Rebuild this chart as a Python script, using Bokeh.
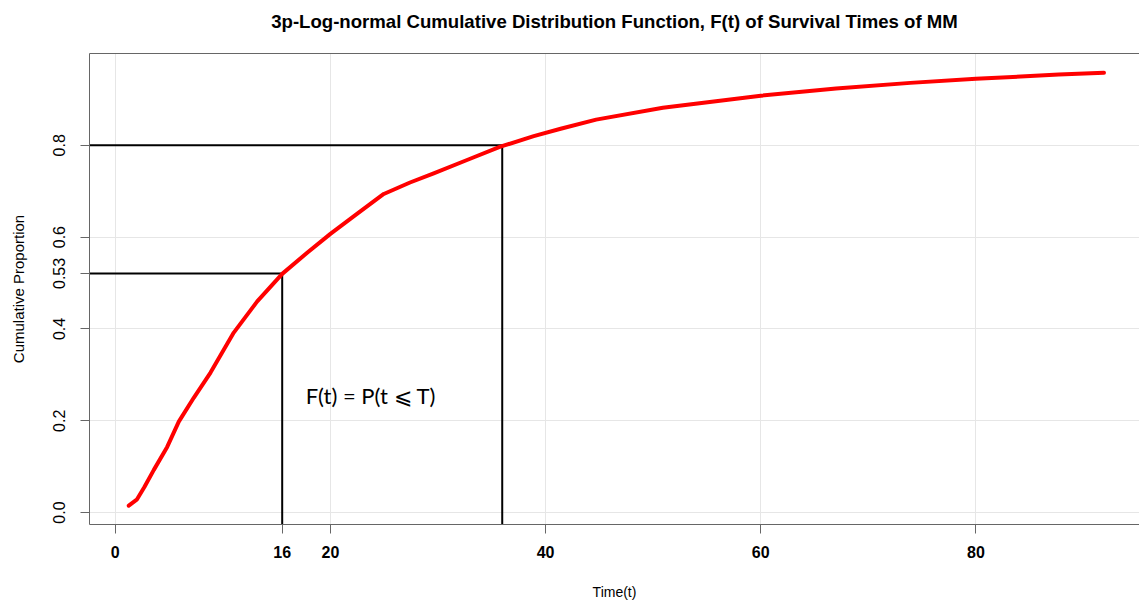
import numpy as np
from bokeh.plotting import figure
from bokeh.models import FixedTicker, LinearAxis, Range1d, ColumnDataSource
from bokeh.core.properties import value
from bokeh.embed import file_html
from bokeh.resources import INLINE

# ---- data ----
time_t = [1.26, 2.0, 2.7, 3.59, 4.83, 5.91, 7.3, 8.86, 11.02, 13.2, 15.52,
          17.84, 20.0, 22.5, 24.96, 27.4, 29.6, 32.7, 35.8, 38.9, 41.4, 44.7,
          50.9, 60.0, 67.0, 73.9, 80.0, 87.7, 91.9]
cum_prop = [0.015, 0.028, 0.055, 0.093, 0.143, 0.198, 0.250, 0.305, 0.392,
            0.460, 0.520, 0.566, 0.607, 0.651, 0.694, 0.719, 0.739, 0.768,
            0.797, 0.820, 0.836, 0.856, 0.882, 0.908, 0.924, 0.936, 0.945,
            0.954, 0.958]

ref_time = [15.52, 35.97]
ref_prop = [0.521, 0.8]

x_ticks = [0, 15.52, 20, 40, 60, 80]
x_tick_labels = ["0", "16", "20", "40", "60", "80"]
y_ticks = [0.0, 0.2, 0.4, 0.521, 0.6, 0.8]
y_tick_labels = ["0.0", "0.2", "0.4", "0.53", "0.6", "0.8"]
x_grid = [0, 20, 40, 60, 80]
y_grid = [0.0, 0.2, 0.4, 0.6, 0.8]

title_text = "3p-Log-normal Cumulative Distribution Function, F(t) of Survival Times of MM"
formula_text = "F(t) = P(t \u2a7d T)"

X0, X1 = -2.39, 95.2
Y0, Y1 = -0.026, 1.0

p = figure(width=1139, height=602, output_backend="svg", toolbar_location=None,
           title=None,
           x_range=Range1d(X0, X1), y_range=Range1d(Y0, Y1),
           min_border_left=89, min_border_right=0, min_border_top=53,
           min_border_bottom=77)
p.outline_line_color = None
p.background_fill_color = "white"
p.border_fill_color = "white"

# grid
p.xgrid.ticker = FixedTicker(ticks=x_grid)
p.ygrid.ticker = FixedTicker(ticks=y_grid)
p.grid.grid_line_color = "#e6e6e6"
p.grid.grid_line_width = 1

frame_col = "#666666"

# x axis
xa = p.xaxis[0]
xa.ticker = FixedTicker(ticks=x_ticks)
xa.major_label_overrides = {t: l for t, l in zip(x_ticks, x_tick_labels)}
xa.axis_line_color = frame_col
xa.major_tick_line_color = frame_col
xa.major_tick_out = 9
xa.major_tick_in = 0
xa.minor_tick_line_color = None
xa.major_label_standoff = 12
xa.major_label_text_font = "Liberation Sans"
xa.major_label_text_font_size = "16px"
xa.major_label_text_font_style = "bold"
xa.major_label_text_color = "black"
xa.axis_label = "Time(t)"
xa.axis_label_text_font = "Liberation Sans"
xa.axis_label_text_font_size = "14px"
xa.axis_label_text_font_style = "normal"
xa.axis_label_text_color = "black"
xa.axis_label_standoff = 23

# y axis
ya = p.yaxis[0]
ya.ticker = FixedTicker(ticks=y_ticks)
ya.major_label_overrides = {t: l for t, l in zip(y_ticks, y_tick_labels)}
ya.major_label_orientation = "vertical"
ya.axis_line_color = frame_col
ya.major_tick_line_color = frame_col
ya.major_tick_out = 9
ya.major_tick_in = 0
ya.minor_tick_line_color = None
ya.major_label_standoff = 15
ya.major_label_text_font = "Liberation Sans"
ya.major_label_text_font_size = "16px"
ya.major_label_text_color = "black"
ya.axis_label = "Cumulative Proportion"
ya.axis_label_text_font = "Liberation Sans"
ya.axis_label_text_font_size = "15px"
ya.axis_label_text_font_style = "normal"
ya.axis_label_text_color = "black"
ya.axis_label_standoff = 24

# top frame line, carrying the chart title as its label
top = LinearAxis(ticker=FixedTicker(ticks=[]), axis_line_color=frame_col,
                 major_tick_line_color=None, minor_tick_line_color=None,
                 major_tick_out=0, major_tick_in=0, major_label_standoff=0,
                 major_label_text_font_size="0px",
                 axis_label=title_text, axis_label_standoff=22,
                 axis_label_text_font="Liberation Sans",
                 axis_label_text_font_size="18.6px",
                 axis_label_text_font_style="bold",
                 axis_label_text_color="black")
p.add_layout(top, "above")

# reference lines
src = ColumnDataSource(dict(t=ref_time, f=ref_prop,
                            xs=[X0 - 1] * len(ref_time),
                            ys=[Y0 - 0.1] * len(ref_time)))
p.segment(x0="xs", y0="f", x1="t", y1="f", source=src,
          line_color="black", line_width=2)
p.segment(x0="t", y0="f", x1="t", y1="ys", source=src,
          line_color="black", line_width=2)

# curve
p.line(time_t, cum_prop, line_color="red", line_width=4, line_join="round",
       line_cap="round")

# formula
p.text(x=[17.7], y=[0.254], text=[formula_text], text_font=value("Lato"),
       text_font_size="22px", text_baseline="middle", text_align="left",
       text_color="black")

open("out.html", "w").write(file_html(p, INLINE))
